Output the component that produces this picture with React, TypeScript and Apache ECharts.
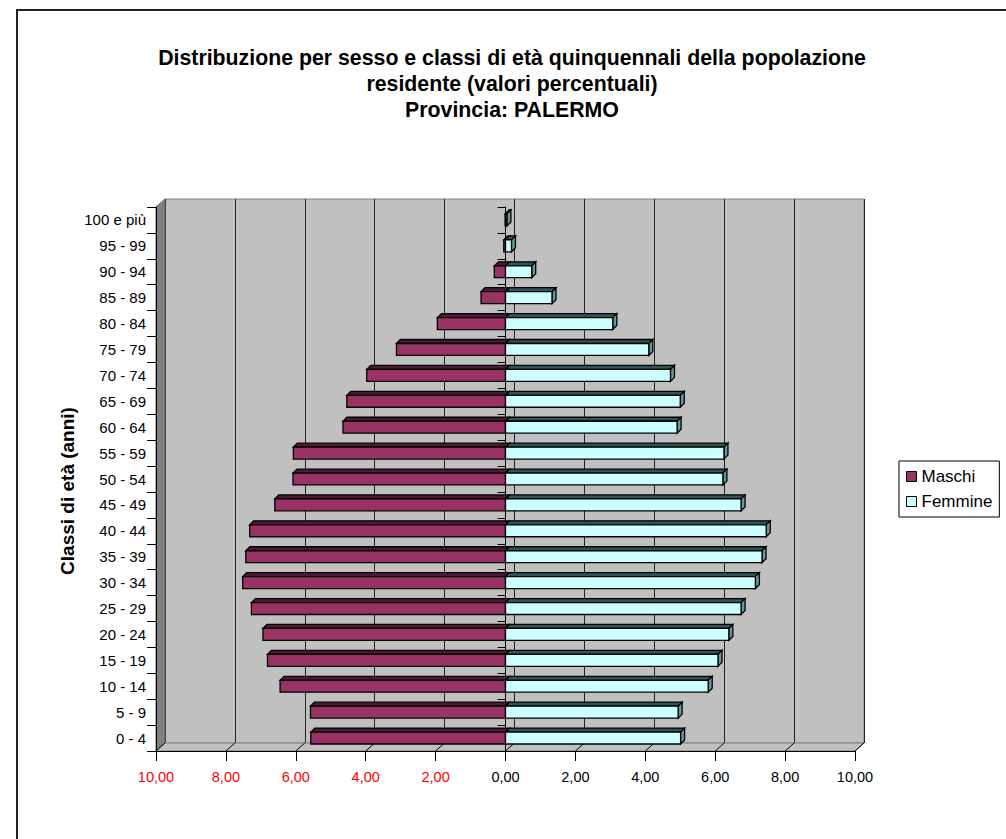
import React, { useEffect, useRef } from 'react';
import * as echarts from 'echarts';

const categories = ['0 - 4', '5 - 9', '10 - 14', '15 - 19', '20 - 24', '25 - 29', '30 - 34', '35 - 39', '40 - 44', '45 - 49', '50 - 54', '55 - 59', '60 - 64', '65 - 69', '70 - 74', '75 - 79', '80 - 84', '85 - 89', '90 - 94', '95 - 99', '100 e più'];
const maschi = [5.57, 5.58, 6.45, 6.81, 6.94, 7.27, 7.52, 7.43, 7.32, 6.6, 6.08, 6.07, 4.65, 4.54, 3.97, 3.12, 1.95, 0.7, 0.32, 0.05, 0.01];
const femmine = [5.01, 4.94, 5.8, 6.08, 6.39, 6.74, 7.15, 7.34, 7.46, 6.74, 6.22, 6.25, 4.91, 5.0, 4.72, 4.1, 3.07, 1.33, 0.75, 0.17, 0.04];
const seriesNames = ['Maschi', 'Femmine'];
const titleLines = ['Distribuzione per sesso e classi di età quinquennali della popolazione', 'residente (valori percentuali)', 'Provincia: PALERMO'];
const yAxisTitle = 'Classi di età (anni)';
const xMin = -10;
const xMax = 10;
const xStep = 2;

const FONT = '"Liberation Sans", Arial, sans-serif';
const W = 1006;
const H = 839;
const FRONT = { left: 156, top: 207, right: 855, bottom: 751 };
const DEPTH = { dx: 9, dy: -8 };
const BAR_DEPTH = 4;

function fmt(v: number) {
  return Math.abs(v).toFixed(2).replace('.', ',');
}

function makeRenderItem(face: string, top: string, side: string, showSide: boolean) {
  return (params: any, api: any) => {
    const cat = api.value(0);
    const val = api.value(1);
    const a = api.coord([0, cat]);
    const b = api.coord([val, cat]);
    const band = api.size([0, 1])[1];
    const h = band * 0.46;
    const y0 = a[1] - h / 2;
    const y1 = a[1] + h / 2;
    const x0 = Math.min(a[0], b[0]);
    const x1 = Math.max(a[0], b[0]);
    const d = BAR_DEPTH;
    const stroke = { stroke: '#000', lineWidth: 1.3 };
    const children: any[] = [
      { type: 'polygon', shape: { points: [[x0, y0], [x1, y0], [x1 + d, y0 - d], [x0 + d, y0 - d]] }, style: { fill: top, ...stroke } },
    ];
    if (showSide) {
      children.push({ type: 'polygon', shape: { points: [[x1, y0], [x1 + d, y0 - d], [x1 + d, y1 - d], [x1, y1]] }, style: { fill: side, ...stroke } });
    }
    children.push({ type: 'rect', shape: { x: x0, y: y0, width: x1 - x0, height: y1 - y0 }, style: { fill: face, ...stroke } });
    return { type: 'group', children };
  };
}

export default function App() {
  const ref = useRef<HTMLDivElement>(null);
  useEffect(() => {
    document.body.style.margin = '0';
    if (!ref.current) return;
    const chart = echarts.init(ref.current, null, { renderer: 'svg' });
    const gw = FRONT.right - FRONT.left;
    const gh = FRONT.bottom - FRONT.top;
    const option: any = {
      animation: false,
      backgroundColor: '#fff',
      textStyle: { fontFamily: FONT },
      grid: [
        { left: FRONT.left, top: FRONT.top, width: gw, height: gh, show: false },
        { left: FRONT.left + DEPTH.dx, top: FRONT.top + DEPTH.dy, width: gw, height: gh, show: true, backgroundColor: '#C0C0C0', borderColor: '#808080', borderWidth: 1 },
      ],
      xAxis: [
        {
          gridIndex: 0, type: 'value', min: xMin, max: xMax, interval: xStep, z: 5,
          axisLine: { show: true, onZero: false, lineStyle: { color: '#000', width: 1 } },
          axisTick: { show: true, length: 10, lineStyle: { color: '#000' } },
          splitLine: { show: false },
          axisLabel: { formatter: (v: number) => fmt(v), color: (v: any) => (Number(v) < 0 ? '#FF0000' : '#000'), fontSize: 14.5, margin: 18, fontFamily: FONT },
        },
        {
          gridIndex: 1, type: 'value', min: xMin, max: xMax, interval: xStep,
          axisLine: { show: false }, axisTick: { show: false }, axisLabel: { show: false },
          splitLine: { show: true, lineStyle: { color: '#222', width: 1 } },
        },
      ],
      yAxis: [
        {
          gridIndex: 0, type: 'category', data: categories, z: 5,
          axisLine: { show: true, onZero: false, lineStyle: { color: '#000' } },
          axisTick: { show: true, length: 9, lineStyle: { color: '#000' } },
          axisLabel: { fontSize: 15, color: '#000', margin: 10, fontFamily: FONT },
        },
        {
          gridIndex: 0, type: 'category', data: categories, position: 'left', z: 4,
          axisLine: { show: true, onZero: true, lineStyle: { color: '#000' } },
          axisTick: { show: true, length: 8, lineStyle: { color: '#000' } },
          axisLabel: { show: false },
        },
        {
          gridIndex: 1, type: 'category', data: categories, show: false,
        },
      ],
      legend: {
        orient: 'vertical', left: 899, top: 461,
        padding: [7, 7, 7, 7], itemGap: 8, itemWidth: 10, itemHeight: 10, itemTextGap: 5,
        borderColor: '#000', borderWidth: 1, backgroundColor: '#fff',
        textStyle: { fontSize: 17, color: '#000', fontFamily: FONT },
        data: [
          { name: seriesNames[0], icon: 'rect', itemStyle: { color: '#993366', borderColor: '#000', borderWidth: 1 } },
          { name: seriesNames[1], icon: 'rect', itemStyle: { color: '#CCFFFF', borderColor: '#000', borderWidth: 1 } },
        ],
      },
      series: [
        {
          name: seriesNames[0], type: 'custom', xAxisIndex: 0, yAxisIndex: 0, z: 10,
          itemStyle: { color: '#993366' },
          encode: { y: 0, x: 1 },
          renderItem: makeRenderItem('#993366', '#4d1a33', '#4d1a33', false),
          data: maschi.map((v, i) => [i, -v]),
        },
        {
          name: seriesNames[1], type: 'custom', xAxisIndex: 0, yAxisIndex: 0, z: 11,
          itemStyle: { color: '#CCFFFF' },
          encode: { y: 0, x: 1 },
          renderItem: makeRenderItem('#CCFFFF', '#2f5555', '#669999', true),
          data: femmine.map((v, i) => [i, v]),
        },
      ],
    };
    chart.setOption(option);

    const ticks: number[] = [];
    for (let v = xMin; v <= xMax; v += xStep) ticks.push(v);
    const floorLines = ticks.map((v) => {
      const px = chart.convertToPixel({ xAxisIndex: 0 }, v) as number;
      return {
        type: 'line', z: 3, silent: true,
        shape: { x1: px, y1: FRONT.bottom, x2: px + DEPTH.dx, y2: FRONT.bottom + DEPTH.dy },
        style: { stroke: '#000', lineWidth: 1 },
      };
    });
    const graphic: any[] = [
      {
        type: 'rect', z: 0, silent: true,
        shape: { x: 17, y: 10, width: W + 20, height: H + 20 },
        style: { fill: 'none', stroke: '#222', lineWidth: 2 },
      },
      {
        type: 'polygon', z: 2, silent: true,
        shape: { points: [[FRONT.left, FRONT.top], [FRONT.left + DEPTH.dx, FRONT.top + DEPTH.dy], [FRONT.left + DEPTH.dx, FRONT.bottom + DEPTH.dy], [FRONT.left, FRONT.bottom]] },
        style: { fill: '#808080', stroke: '#666', lineWidth: 1 },
      },
      {
        type: 'polygon', z: 2, silent: true,
        shape: { points: [[FRONT.left, FRONT.bottom], [FRONT.left + DEPTH.dx, FRONT.bottom + DEPTH.dy], [FRONT.right + DEPTH.dx, FRONT.bottom + DEPTH.dy], [FRONT.right, FRONT.bottom]] },
        style: { fill: '#C0C0C0', stroke: '#808080', lineWidth: 1 },
      },
      ...floorLines,
      {
        type: 'text', z: 5, silent: true,
        style: {
          x: 512, y: 45, text: titleLines.join('\n'), align: 'center', verticalAlign: 'top',
          font: `bold 21.3px ${FONT}`, lineHeight: 26, fill: '#000',
        },
      },
      {
        type: 'text', z: 5, silent: true, x: 67, y: 491, rotation: Math.PI / 2,
        style: {
          x: 0, y: 0, text: yAxisTitle, align: 'center', verticalAlign: 'middle',
          font: `bold 19px ${FONT}`, fill: '#000',
        },
      },
    ];
    chart.setOption({ graphic });
    return () => chart.dispose();
  }, []);
  return <div ref={ref} style={{ width: W, height: H }} />;
}
